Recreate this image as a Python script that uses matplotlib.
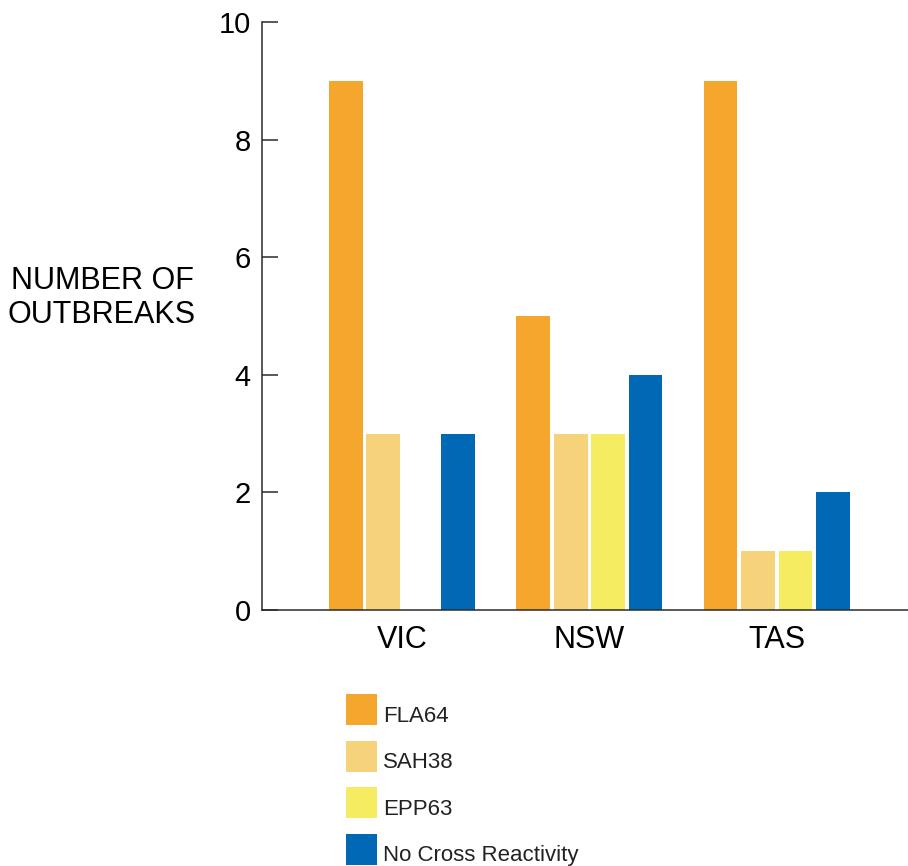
import numpy as np
import matplotlib
matplotlib.use("Agg")
import matplotlib.pyplot as plt
from matplotlib.patches import Rectangle

plt.rcParams['font.family'] = ['Liberation Sans', 'DejaVu Sans']

# data
states = ['VIC', 'NSW', 'TAS']
series = ['FLA64', 'SAH38', 'EPP63', 'No Cross Reactivity']
fla64 = [9, 5, 9]
sah38 = [3, 3, 1]
epp63 = [0, 3, 1]
no_cross = [3, 4, 2]
colors = ['#F5A62D', '#F6D37A', '#F5EC62', '#0068B4']

values = [fla64, sah38, epp63, no_cross]

fig = plt.figure(figsize=(9.08, 8.66), dpi=100)
ax = fig.add_axes([262 / 908, 1 - 610 / 866, 1 - 262 / 908, (610 - 22) / 866])

x = np.arange(len(states))
width = 0.18
step = 0.2
offsets = (np.arange(len(series)) - 1.5) * step
for vals, off, col in zip(values, offsets, colors):
    ax.bar(x + off, vals, width=width, color=col, linewidth=0)

ax.set_xlim(-0.747, 2.70)
ax.set_ylim(0, 10)
ax.set_yticks([0, 2, 4, 6, 8, 10])
ax.set_xticks(x)
ax.set_xticklabels(states, fontsize=22)
ax.set_xticks([1], minor=True)
ax.tick_params(axis='x', which='major', length=0, pad=11)
ax.tick_params(axis='x', which='minor', direction='in', length=9, width=1.1, color='#2b2b2b')
ax.tick_params(axis='y', direction='in', length=11.5, width=1.1, color='#2b2b2b',
               labelsize=21, pad=8)
# VIC label sits a bit left of its group centre in the original
ax.get_xticklabels()[0].set_x(-0.06)

for s in ['top', 'right']:
    ax.spines[s].set_visible(False)
for s in ['left', 'bottom']:
    ax.spines[s].set_color('#2b2b2b')
    ax.spines[s].set_linewidth(1.1)

fig.text(102 / 908, 1 - 298 / 866, 'NUMBER OF\nOUTBREAKS', fontsize=22,
         ha='center', va='center', multialignment='center', linespacing=1.15)

# legend drawn by hand, text sitting on patch bottom
for i, (name, col) in enumerate(zip(series, colors)):
    top = 694 + i * 46.5
    fig.patches.append(Rectangle((346 / 908, 1 - (top + 31) / 866), 31 / 908, 31 / 866,
                                 transform=fig.transFigure, facecolor=col, edgecolor='none'))
    fig.text(383 / 908, 1 - (top + 28) / 866, name, fontsize=16, ha='left',
             va='baseline', color='#222222')

fig.savefig('out.png', dpi=100)
